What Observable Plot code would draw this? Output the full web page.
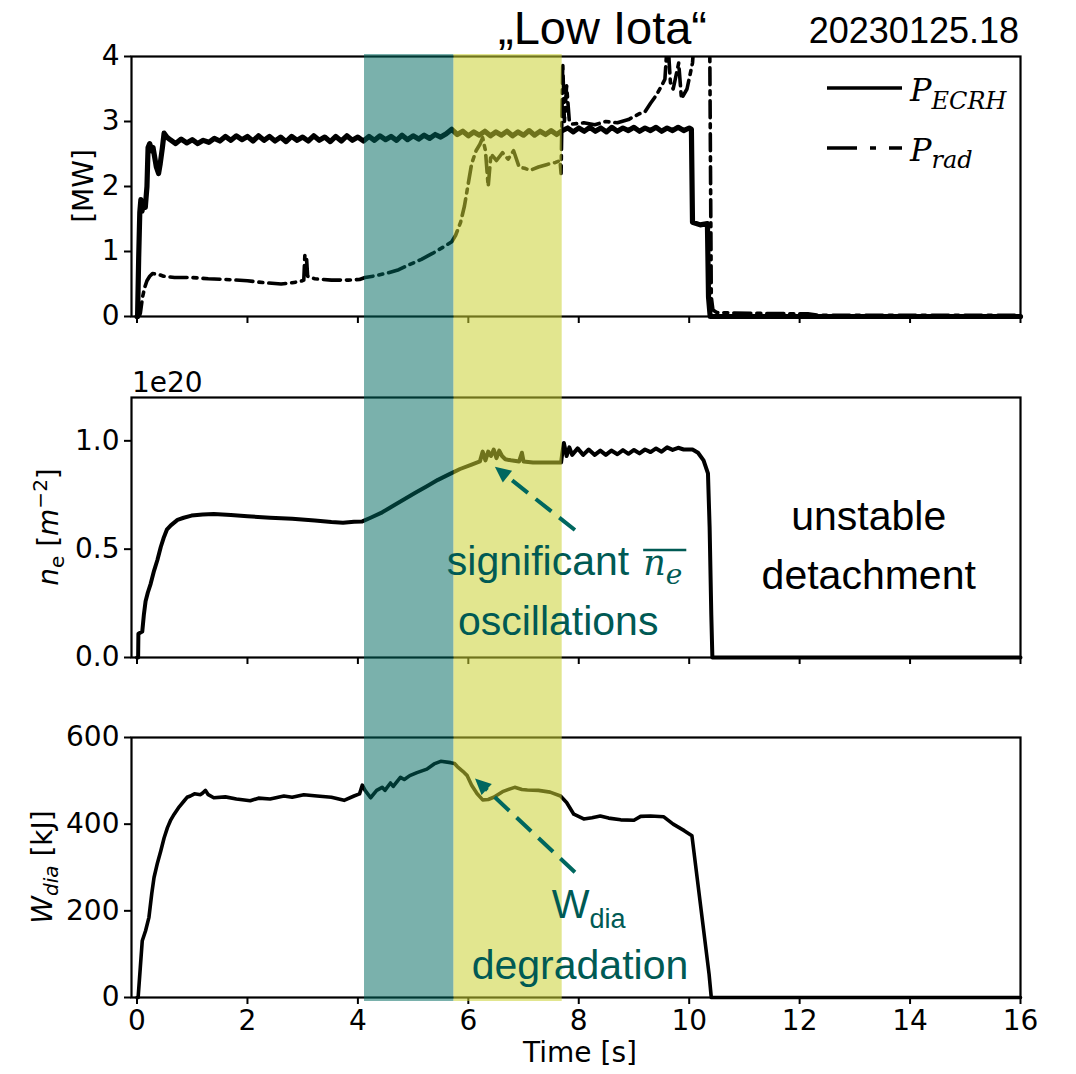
<!DOCTYPE html>
<html><head><meta charset="utf-8">
<script src="https://cdn.jsdelivr.net/npm/d3@7"></script>
<script src="https://cdn.jsdelivr.net/npm/@observablehq/plot@0.6"></script>
<style>
body{margin:0;background:#fff;}
#chart{position:relative;width:1076px;height:1074px;overflow:hidden;background:#fff;}
#chart > svg{position:absolute;left:0;}
</style></head><body><div id="chart"></div>
<script>
// ---------------- data ----------------
const xTicks = [0, 2, 4, 6, 8, 10, 12, 14, 16];
const yTicksP = [0, 1, 2, 3, 4];
const yTicksN = [0, 0.5, 1.0];
const yTicksW = [0, 200, 400, 600];

// shaded phases (time in s)
const bandName = ["phase1", "phase2"];
const bandStart = [4.12, 5.74];
const bandEnd = [5.74, 7.70];

// P_ECRH [MW]
const ecrhT = [0,0.01,0.03,0.05,0.07,0.09,0.12,0.15,0.18,0.2,0.23,0.26,0.29,0.32,0.35,0.39,0.42,0.46,0.49,0.54,
 0.6,0.7,0.8,0.9,1.0,1.1,1.2,1.3,1.4,1.5,1.6,1.7,1.8,1.9,2.0,2.1,2.2,2.3,2.4,2.5,2.6,2.7,2.8,2.9,
 3.0,3.1,3.2,3.3,3.4,3.5,3.6,3.7,3.8,3.9,4.0,4.1,4.2,4.3,4.4,4.5,4.6,4.7,4.8,4.9,
 5.0,5.1,5.2,5.3,5.4,5.5,5.6,5.7,5.8,5.9,6.0,6.1,6.2,6.3,6.4,6.5,6.6,6.7,6.8,6.9,
 7.0,7.1,7.2,7.3,7.4,7.5,7.6,7.7,7.8,7.9,8.0,8.1,8.2,8.3,8.4,8.5,8.6,8.7,8.8,8.9,
 9.0,9.1,9.2,9.3,9.4,9.5,9.6,9.7,9.8,9.9,10.0,10.04,10.06,10.2,10.33,10.35,10.38,16];
const ecrhP = [0,0,0.9,1.6,1.8,1.62,1.75,1.68,2.0,2.6,2.66,2.55,2.6,2.45,2.3,2.2,2.35,2.6,2.82,2.76,
 2.72,2.66,2.73,2.67,2.72,2.66,2.71,2.68,2.74,2.70,2.77,2.71,2.78,2.72,2.77,2.70,2.78,2.71,2.77,2.70,2.76,2.69,2.77,2.71,
 2.76,2.70,2.78,2.71,2.76,2.69,2.77,2.70,2.78,2.71,2.76,2.70,2.77,2.71,2.78,2.72,2.77,2.71,2.79,2.72,
 2.78,2.73,2.79,2.74,2.80,2.76,2.81,2.88,2.80,2.85,2.78,2.84,2.79,2.85,2.78,2.84,2.79,2.85,2.78,2.84,
 2.79,2.86,2.79,2.85,2.80,2.86,2.80,2.86,2.90,2.84,2.90,2.85,2.91,2.85,2.90,2.84,2.91,2.85,2.90,2.86,
 2.91,2.85,2.90,2.86,2.91,2.85,2.90,2.86,2.91,2.86,2.90,2.88,1.45,1.41,1.43,0.3,0,0];

// P_rad [MW]
const radT = [0,0.04,0.06,0.1,0.14,0.18,0.23,0.28,0.38,0.48,0.68,0.99,1.29,1.6,2.0,2.3,2.61,2.81,2.96,3.02,3.04,3.07,3.09,
 3.22,3.52,3.83,4.03,4.13,4.34,4.54,4.74,4.94,5.15,5.35,5.55,5.7,5.77,5.86,5.93,5.99,6.06,6.14,6.21,6.26,6.31,6.36,6.41,
 6.51,6.62,6.72,6.82,6.92,7.02,7.12,7.27,7.43,7.58,7.66,7.68,7.71,7.74,7.78,7.83,7.88,8.09,8.29,8.49,8.7,8.9,9.1,9.2,9.3,
 9.4,9.5,9.56,9.61,9.66,9.71,9.81,9.86,9.96,10.06,10.11,10.37,10.4,10.43,10.5,11.1,12.15,12.35,16];
const radP = [0,0,0.05,0.3,0.45,0.55,0.62,0.66,0.65,0.62,0.6,0.6,0.58,0.57,0.55,0.52,0.5,0.52,0.54,0.56,0.95,0.9,0.62,
 0.58,0.56,0.56,0.57,0.6,0.63,0.67,0.72,0.8,0.88,0.97,1.07,1.15,1.25,1.45,1.7,2.0,2.35,2.55,2.65,2.75,2.55,2.0,2.5,
 2.4,2.52,2.42,2.55,2.3,2.28,2.25,2.3,2.34,2.37,2.4,2.2,3.9,3.0,3.55,3.0,2.96,2.98,2.95,3.0,2.98,3.03,3.12,3.15,3.28,
 3.4,3.55,3.65,4.3,3.6,3.5,3.9,3.35,3.5,3.9,4.5,4.5,0.3,0.1,0.06,0.05,0.04,0.02,0.02];

// line-integrated density n_e [1e20 m^-2]
const neT = [0,0.02,0.025,0.095,0.125,0.155,0.196,0.247,0.308,0.369,0.43,0.48,0.54,0.612,0.733,0.845,0.987,1.19,1.39,1.7,
 2.0,2.41,2.81,3.22,3.52,3.73,3.93,4.08,4.23,4.44,4.64,4.84,5.04,5.25,5.45,5.65,5.85,6.06,6.21,6.26,6.31,6.36,6.41,6.46,
 6.51,6.56,6.61,6.67,6.77,6.92,6.97,7.0,7.17,7.38,7.63,7.68,7.7,7.73,7.78,7.83,7.88,7.98,8.08,8.18,8.29,8.39,8.49,8.59,
 8.7,8.8,8.9,9.0,9.1,9.2,9.3,9.4,9.5,9.6,9.7,9.8,9.9,10.06,10.16,10.26,10.34,10.37,10.4,10.42,16];
const neV = [0,0,0.11,0.12,0.2,0.26,0.3,0.34,0.4,0.45,0.51,0.55,0.59,0.61,0.635,0.645,0.655,0.66,0.662,0.658,
 0.652,0.645,0.64,0.632,0.625,0.622,0.627,0.628,0.645,0.67,0.7,0.73,0.76,0.79,0.82,0.845,0.87,0.89,0.905,0.95,0.91,0.95,0.93,0.96,
 0.92,0.955,0.93,0.915,0.91,0.905,0.945,0.905,0.9,0.9,0.9,0.9,0.94,0.99,0.93,0.97,0.935,0.965,0.935,0.96,0.935,0.955,0.935,0.955,
 0.938,0.957,0.94,0.958,0.942,0.96,0.948,0.965,0.95,0.97,0.958,0.968,0.96,0.96,0.945,0.91,0.85,0.6,0.2,0,0];

// diamagnetic energy W_dia [kJ]
const wT = [0,0.02,0.06,0.095,0.155,0.216,0.267,0.308,0.369,0.43,0.49,0.551,0.612,0.673,0.764,0.855,0.906,0.967,1.04,1.15,
 1.19,1.24,1.29,1.39,1.6,1.8,2.05,2.2,2.41,2.66,2.81,3.02,3.26,3.52,3.75,3.93,4.03,4.08,4.13,4.23,4.34,4.44,4.49,4.59,4.64,
 4.77,4.84,4.94,5.07,5.25,5.38,5.5,5.68,5.75,5.8,5.9,5.98,6.06,6.16,6.26,6.36,6.46,6.62,6.77,6.84,6.97,7.07,7.27,7.48,7.67,
 7.78,7.91,8.09,8.24,8.39,8.54,8.76,9.0,9.12,9.3,9.54,9.61,9.71,9.91,10.05,10.36,10.40,16];
const wV = [0,0,70,131,154,185,240,277,310,338,368,392,410,423,440,454,462,465,470,468,
 472,478,468,461,463,458,454,460,458,465,462,468,465,462,455,465,470,490,478,461,478,485,478,495,487,
 508,503,512,519,527,539,545,542,540,533,522,512,490,470,456,457,462,475,482,485,480,479,478,474,465,
 450,423,412,415,419,414,410,409,418,419,417,410,400,385,373,54,0,0];

// annotation anchors (time, value)
const nArrowFrom = [7.94, 0.586], nArrowTo = [6.49, 0.878];
const wArrowFrom = [7.94, 288], wArrowTo = [6.13, 504];

// ---------------- layout ----------------
const W = 1076, ML = 131, MR = 56;
const xDomain = [-0.1, 16];
const FONT = "DejaVu Sans";
const SANS = "Liberation Sans, Arial, sans-serif";
const MATH = "DejaVu Serif";
const TEAL_T = "#005a54", TEAL_A = "#00675f";
const chart = document.getElementById("chart");
const rows = (ts, vs) => ts.map((t, i) => ({t, v: vs[i]}));

function panel({top, height, mt, mb, yDomain, yTicks, yFmt, marks, xLabels}) {
  const p = Plot.plot({
    width: W, height, marginLeft: ML, marginRight: MR, marginTop: mt, marginBottom: mb,
    x: {domain: xDomain}, y: {domain: yDomain},
    style: {fontFamily: FONT, fontSize: "28px", color: "black", background: "transparent", overflow: "visible"},
    marks: [
      ...marks,
      Plot.frame({stroke: "black", strokeWidth: 2.2}),
      Plot.axisY({ticks: yTicks, tickSize: 7, tickPadding: 5, tickFormat: yFmt, label: null, strokeWidth: 2}),
      Plot.axisX({ticks: xTicks, tickSize: 7, tickPadding: 6, tickFormat: xLabels ? (d => String(d)) : (() => ""), label: null, strokeWidth: 2})
    ]
  });
  p.style.top = top + "px";
  chart.appendChild(p);
  return p;
}

const lineOpts = {x: "t", y: "v", stroke: "black", strokeWidth: 3.6, strokeLinejoin: "round"};

const P1top = 0, P2top = 357, P3top = 717;
const p1 = panel({top: P1top, height: 357, mt: 56, mb: 41, yDomain: [0, 4], yTicks: yTicksP, yFmt: d => String(d),
  marks: [
    Plot.line(rows(radT, radP), {...lineOpts, strokeDasharray: "17,6,4,6", clip: true}),
    Plot.line(rows(ecrhT, ecrhP), {...lineOpts, strokeWidth: 5.2})
  ]});
const p2 = panel({top: P2top, height: 360, mt: 40, mb: 60, yDomain: [0, 1.2], yTicks: yTicksN, yFmt: d3.format(".1f"),
  marks: [Plot.line(rows(neT, neV), {...lineOpts, strokeWidth: 4})]});
const p3 = panel({top: P3top, height: 357, mt: 20, mb: 77, yDomain: [0, 600], yTicks: yTicksW, yFmt: d => String(d), xLabels: true,
  marks: [Plot.line(rows(wT, wV), lineOpts)]});

// shaded phases, drawn over the lines across all three panels
const bands = bandName.map((n, i) => ({n, a: bandStart[i], b: bandEnd[i]}));
const overlay = Plot.plot({
  width: W, height: 1074, marginLeft: ML, marginRight: MR, marginTop: 54, marginBottom: 73,
  x: {domain: xDomain, axis: null},
  style: {background: "transparent"},
  marks: [
    Plot.rect(bands.filter(d => d.n === "phase1"), {x1: "a", x2: "b", fill: "#00695f", fillOpacity: 0.52}),
    Plot.rect(bands.filter(d => d.n === "phase2"), {x1: "a", x2: "b", fill: "#cad133", fillOpacity: 0.55})
  ]
});
overlay.style.top = "0px";
chart.appendChild(overlay);

// ---------------- text & annotations ----------------
const ann = d3.create("svg").attr("width", W).attr("height", 1074).style("top", "0px");
chart.appendChild(ann.node());
const X = (p, t) => p.scale("x").apply(t);
const Y = (p, top, v) => top + p.scale("y").apply(v);

// title
ann.append("text").attr("x", 498).attr("y", 44).attr("font-family", SANS).attr("font-size", 47).text("\u201ELow Iota\u201C");
ann.append("text").attr("x", 1019).attr("y", 43).attr("text-anchor", "end").attr("font-family", SANS).attr("font-size", 36).text("20230125.18");

// legend
ann.append("line").attr("x1", 827).attr("x2", 902).attr("y1", 88).attr("y2", 88).attr("stroke", "black").attr("stroke-width", 3.6);
ann.append("line").attr("x1", 827).attr("x2", 902).attr("y1", 148).attr("y2", 148).attr("stroke", "black").attr("stroke-width", 3.6).attr("stroke-dasharray", "30,13,6,13");
{
  const t1 = ann.append("text").attr("x", 910).attr("y", 101).attr("font-family", MATH).attr("font-style", "italic");
  t1.append("tspan").attr("font-size", 32).text("P");
  t1.append("tspan").attr("font-size", 24).attr("dy", 8).text("ECRH");
  const t2 = ann.append("text").attr("x", 910).attr("y", 161).attr("font-family", MATH).attr("font-style", "italic");
  t2.append("tspan").attr("font-size", 32).text("P");
  t2.append("tspan").attr("font-size", 24).attr("dy", 7).text("rad");
}

// y labels
function ylab(x, y, parts) {
  const t = ann.append("text").attr("transform", `translate(${x},${y}) rotate(-90)`).attr("text-anchor", "middle")
    .attr("font-family", FONT).attr("font-size", 28).attr("fill", "black");
  for (const p of parts) {
    const s = t.append("tspan").text(p.s);
    if (p.i) s.attr("font-style", "italic");
    if (p.f) s.attr("font-size", p.f);
    if (p.dy) s.attr("dy", p.dy);
  }
}
ylab(93, 186, [{s: "[MW]"}]);
ylab(58, P2top + 170, [{s: "n", i: 1}, {s: "e", f: 20, dy: 6}, {s: " [", f: 28, dy: -6}, {s: "m", i: 1}, {s: "\u22122", f: 20, dy: -11}, {s: "]", f: 28, dy: 11}]);
ylab(52, P3top + 150, [{s: "W", i: 1}, {s: "dia", i: 1, f: 20, dy: 6}, {s: " [kJ]", f: 28, dy: -6}]);

// offset text & x label
ann.append("text").attr("x", 132).attr("y", 392).attr("font-family", FONT).attr("font-size", 28).text("1e20");
ann.append("text").attr("x", 580).attr("y", 1062).attr("text-anchor", "middle").attr("font-family", FONT).attr("font-size", 28).text("Time [s]");

// arrows
function arrow(p, top, from, to) {
  const x0 = X(p, from[0]), y0 = Y(p, top, from[1]);
  const x1 = X(p, to[0]), y1 = Y(p, top, to[1]);
  const dx = x1 - x0, dy = y1 - y0, L = Math.hypot(dx, dy), ux = dx / L, uy = dy / L;
  const hl = 16, hw = 7.5;
  const bx = x1 - ux * hl, by = y1 - uy * hl;
  ann.append("line").attr("x1", x0).attr("y1", y0).attr("x2", bx + ux * 2).attr("y2", by + uy * 2)
    .attr("stroke", TEAL_A).attr("stroke-width", 4).attr("stroke-dasharray", "20,10");
  ann.append("path").attr("d", `M${x1},${y1}L${bx - uy * hw},${by + ux * hw}L${bx + uy * hw},${by - ux * hw}Z`).attr("fill", TEAL_A);
}
arrow(p2, P2top, nArrowFrom, nArrowTo);
arrow(p3, P3top, wArrowFrom, wArrowTo);

// annotation texts
{
  const sx = X(p2, 5.62), sy = Y(p2, P2top, 0.378);
  const s = ann.append("text").attr("x", sx).attr("y", sy).attr("font-family", SANS).attr("font-size", 41).attr("fill", TEAL_T).text("significant");
  const w = s.node().getComputedTextLength();
  const mx = sx + w + 14;
  const m = ann.append("text").attr("x", mx).attr("y", sy).attr("font-family", MATH).attr("font-style", "italic").attr("fill", TEAL_T);
  m.append("tspan").attr("font-size", 35).text("n");
  m.append("tspan").attr("font-size", 28).attr("dy", 9).text("e");
  const mw = m.node().getComputedTextLength();
  ann.append("line").attr("x1", mx).attr("x2", mx + mw + 4).attr("y1", sy - 25).attr("y2", sy - 25).attr("stroke", TEAL_T).attr("stroke-width", 2.5);

  ann.append("text").attr("x", X(p2, 5.82)).attr("y", Y(p2, P2top, 0.1015)).attr("font-family", SANS).attr("font-size", 41).attr("fill", TEAL_T).text("oscillations");
  ann.append("text").attr("x", X(p2, 13.26)).attr("y", Y(p2, P2top, 0.586)).attr("text-anchor", "middle").attr("font-family", SANS).attr("font-size", 41).attr("fill", "black").text("unstable");
  ann.append("text").attr("x", X(p2, 13.26)).attr("y", Y(p2, P2top, 0.314)).attr("text-anchor", "middle").attr("font-family", SANS).attr("font-size", 41).attr("fill", "black").text("detachment");

  const wt = ann.append("text").attr("x", X(p3, 7.52)).attr("y", Y(p3, P3top, 181.6)).attr("font-family", SANS).attr("fill", TEAL_T);
  wt.append("tspan").attr("font-size", 40).text("W");
  wt.append("tspan").attr("font-size", 27).attr("dy", 10).text("dia");
  ann.append("text").attr("x", X(p3, 6.07)).attr("y", Y(p3, P3top, 42.5)).attr("font-family", SANS).attr("font-size", 41).attr("fill", TEAL_T).text("degradation");
}
</script></body></html>
